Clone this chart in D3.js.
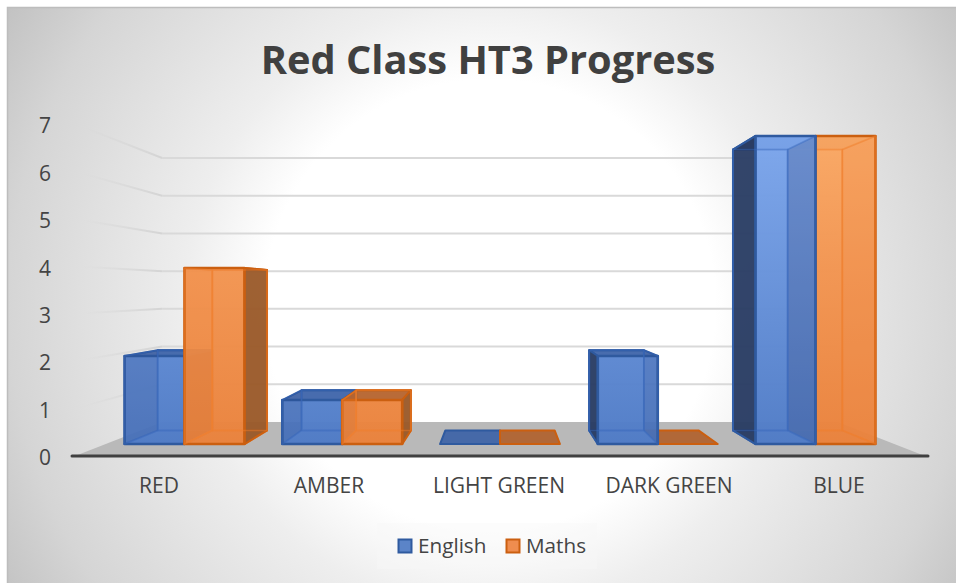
<!DOCTYPE html>
<html><head><meta charset="utf-8">
<script src="https://cdn.jsdelivr.net/npm/d3@7"></script>
<style>html,body{margin:0;padding:0;background:#fff}svg{display:block}text{font-family:"Open Sans",sans-serif;fill:#444}</style>
</head><body><div id="chart"></div>
<script>
const categories = ["RED","AMBER","LIGHT GREEN","DARK GREEN","BLUE"];
const seriesNames = ["English","Maths"];
const english = [2,1,0,2,7];
const maths = [4,1,0,0,7];
const yTicks = [0,1,2,3,4,5,6,7];
const titleText = "Red Class HT3 Progress";

const W=956,H=583;
const svg=d3.select("#chart").append("svg").attr("width",W).attr("height",H);
const defs=svg.append("defs");

const x=d3.scaleBand().domain(categories).range([75,925]).paddingInner(.24).paddingOuter(.12);
const xs=d3.scaleBand().domain(seriesNames).range([0,x.bandwidth()]);
const y=d3.scaleLinear().domain([0,7]).range([456,124]);
// perspective: depth factor of each plane
const vx=500,vy=290;
const S={front:1,barFront:.928,barBack:.846,wall:.795};
const P=(wx,wy,s)=>[vx+s*(wx-vx),vy+s*(wy-vy)];
const pts=a=>a.map(p=>p.join(",")).join(" ");

// background
const bg=defs.append("radialGradient").attr("id","bg").attr("gradientUnits","userSpaceOnUse")
 .attr("cx",490).attr("cy",305).attr("r",610);
[[0,"#ffffff"],[.37,"#ffffff"],[.5,"#eeeeee"],[.79,"#d5d5d5"],[.93,"#c2c2c2"]].forEach(d=>bg.append("stop").attr("offset",d[0]).attr("stop-color",d[1]));
svg.append("rect").attr("x",7).attr("y",7).attr("width",W-7).attr("height",H-7).attr("fill","url(#bg)");
svg.append("path").attr("d",`M7.5,${H}V7.5H${W}`).attr("fill","none").attr("stroke","#bdbdbd").attr("stroke-width",1.5);

// gradients
const fade=defs.append("linearGradient").attr("id","fade");
fade.append("stop").attr("offset",0).attr("stop-color","#d4d4d4").attr("stop-opacity",0);
fade.append("stop").attr("offset",1).attr("stop-color","#d4d4d4").attr("stop-opacity",1);
function vgrad(id,stops){const g=defs.append("linearGradient").attr("id",id).attr("gradientUnits","userSpaceOnUse")
 .attr("x1",0).attr("x2",0).attr("y1",136).attr("y2",444);
 stops.forEach(s=>g.append("stop").attr("offset",s[0]).attr("stop-color",s[1]));}
vgrad("fE",[[0,"#7ca6ec"],[1,"#4f7bc6"]]);
vgrad("fM",[[0,"#faa864"],[.45,"#f29450"],[1,"#ea823c"]]);

// title
svg.append("text").attr("x",488).attr("y",74).attr("text-anchor","middle").attr("font-size",39.8).attr("font-weight",700).style("fill","#404040").text(titleText);

// walls
const [xL,xR]=x.range();
const grid=svg.append("g");
yTicks.filter(t=>t>0).forEach(t=>{
  const a=P(xL,y(t),S.front),b=P(xL,y(t),S.wall),c=P(xR,y(t),S.wall);
  grid.append("line").attr("x1",a[0]+8).attr("y1",a[1]+(b[1]-a[1])*.09).attr("x2",b[0]).attr("y2",b[1]).attr("stroke","url(#fade)").attr("stroke-width",2);
  grid.append("line").attr("x1",b[0]).attr("y1",b[1]).attr("x2",c[0]).attr("y2",c[1]).attr("stroke","#d9d9d9").attr("stroke-width",2);
});
svg.append("polygon").attr("points",pts([P(xL,y(0),S.front),P(xR,y(0),S.front),P(xR,y(0),S.wall),P(xL,y(0),S.wall)])).attr("fill","#b9b9b9");

// bars
const style={
 English:{front:"url(#fE)",edge:"#2f5a9f",inner:"#3a68ba",side:"#26375c",inSide:"#2a4a8c",top:"#3c62a6"},
 Maths:{front:"url(#fM)",edge:"#cb5f10",inner:"#ef7f2c",side:"#955628",inSide:"#f08030",top:"#b0612c"}
};
const values={English:english,Maths:maths};
const bars=[];
categories.forEach((c,i)=>seriesNames.forEach(sn=>bars.push({c,i,sn,v:values[sn][i]})));
const cx=d=>x(d.c)+xs(d.sn)+xs.bandwidth()/2;
const catCentre=d=>x(d.c)+x.bandwidth()/2;
bars.sort((a,b)=>(a.i-b.i)|| (Math.abs(cx(b)-vx)-Math.abs(cx(a)-vx)));
const gb=svg.append("g").attr("stroke-linejoin","round");
bars.forEach(d=>{
  const s=style[d.sn],l=x(d.c)+xs(d.sn),r=l+xs.bandwidth(),t=y(d.v),b=y(0);
  const f=S.barFront,k=S.barBack;
  const q={ftl:P(l,t,f),ftr:P(r,t,f),fbl:P(l,b,f),fbr:P(r,b,f),btl:P(l,t,k),btr:P(r,t,k),bbl:P(l,b,k),bbr:P(r,b,k)};
  const face=(p,fill,op,stroke,sw,so=1)=>gb.append("polygon").attr("points",pts(p)).attr("fill",fill).attr("fill-opacity",op).attr("stroke",stroke).attr("stroke-width",sw).attr("stroke-opacity",so);
  if(d.v===0){
    face([q.fbl,q.fbr,q.bbr,q.bbl],s.top,.92,s.edge,2);
    return;
  }
  const leftOfVp=catCentre(d)<vx;
  const leftF=[q.ftl,q.btl,q.bbl,q.fbl], rightF=[q.ftr,q.btr,q.bbr,q.fbr];
  const innerF=leftOfVp?leftF:rightF, outerF=leftOfVp?rightF:leftF;
  face([q.btl,q.btr,q.bbr,q.bbl],s.front,.6,s.inner,2);
  face([q.fbl,q.fbr,q.bbr,q.bbl],s.front,.6,s.inner,2);
  face([q.ftl,q.ftr,q.btr,q.btl],s.top,.88,s.edge,2);
  face(outerF,s.side,.9,s.edge,2);
  face([q.ftl,q.ftr,q.fbr,q.fbl],s.front,.93,s.edge,2.6);
  // back rectangle and side facing the middle of the chart, seen through the front
  face(innerF,s.inSide,.22,s.inner,1.6,.45);
  face([q.btl,q.btr,q.bbr,q.bbl],"none",0,s.inner,1.6,.45);
});

// axes
const axFont=g=>g.call(a=>a.select(".domain").remove()).call(a=>a.selectAll("line").remove()).selectAll("text").style("font-family",'"Open Sans",sans-serif').attr("font-size",21).style("fill","#444");
svg.append("g").attr("transform","translate(51,2)").call(d3.axisLeft(y).tickValues(yTicks).tickFormat(d3.format("d")).tickSize(0).tickPadding(0)).call(axFont);
svg.append("line").attr("x1",xL-3).attr("x2",xR+3).attr("y1",y(0)).attr("y2",y(0)).attr("stroke","#404040").attr("stroke-width",3).attr("stroke-linecap","round");
svg.append("g").attr("transform","translate(-1,475)").call(d3.axisBottom(x).tickSize(0).tickPadding(3)).call(axFont);

// legend
svg.append("rect").attr("x",377).attr("y",523).attr("width",220).attr("height",46).attr("fill","#f8f8f8").attr("fill-opacity",.4);
const lg=svg.append("g");
const legendX=d3.scalePoint().domain(seriesNames).range([398,506]);
seriesNames.forEach(n=>{
  const g=lg.append("g").attr("transform",`translate(${legendX(n)},539)`);
  g.append("rect").attr("x",.5).attr("y",.5).attr("width",13).attr("height",13).attr("fill",n==="English"?"#5b84c8":"#ef8d4f").attr("stroke",style[n].edge).attr("stroke-width",2);
  g.append("text").attr("x",20).attr("y",14).attr("font-size",20.7).text(n);
});
</script></body></html>
